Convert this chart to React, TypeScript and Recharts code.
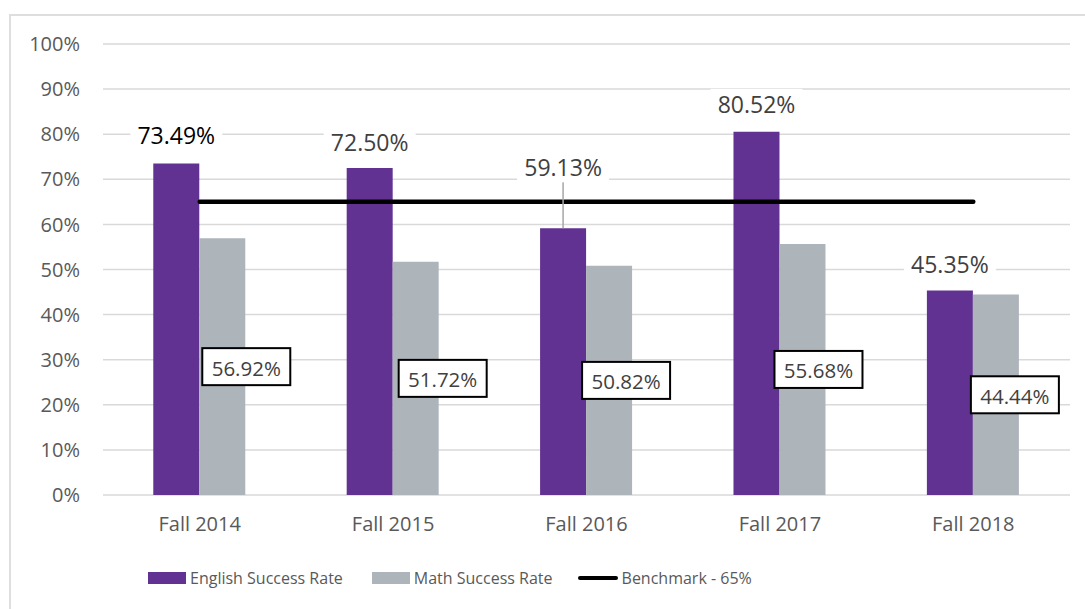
import React from "react";
import {
  Bar,
  CartesianGrid,
  ComposedChart,
  LabelList,
  Line,
  XAxis,
  YAxis,
} from "recharts";

const terms = ["Fall 2014", "Fall 2015", "Fall 2016", "Fall 2017", "Fall 2018"];
const englishRate = [73.49, 72.5, 59.13, 80.52, 45.35];
const mathRate = [56.92, 51.72, 50.82, 55.68, 44.44];
const benchmark = [65, 65, 65, 65, 65];
const yTicks = [0, 10, 20, 30, 40, 50, 60, 70, 80, 90, 100];

// label nudges (px), hand placed like in the original
const englishLift = [29, 26, 61, 28, 26];
const mathShift = [24, 27, 17, 16, 19];

const PURPLE = "#623292";
const GRAY = "#adb4ba";
const TEXT = "#595959";
const FONT = "'Open Sans', sans-serif";

const datos = terms.map((t, i) => ({
  term: t,
  english: englishRate[i],
  math: mathRate[i],
  benchmark: benchmark[i],
}));

const pct = (v: number) => `${v.toFixed(2)}%`;

function EnglishLabel(props: any) {
  const { x, y, width, value, index } = props;
  const cx = Number(x) + Number(width) / 2;
  const lift = englishLift[index];
  const cy = Number(y) - lift;
  const first = index === 0;
  return (
    <g>
      {lift > 40 && (
        <line x1={cx} x2={cx} y1={cy + 14} y2={Number(y)} stroke="#a6a6a6" strokeWidth={1.5} />
      )}
      <rect x={cx - 46} y={cy - 15} width={92} height={30} fill="#fff" />
      <text
        x={cx}
        y={cy}
        textAnchor="middle"
        dominantBaseline="central"
        fontSize={23}
        fontFamily={FONT}
        fill={first ? "#000" : "#404040"}
      >
        {pct(Number(value))}
      </text>
    </g>
  );
}

function MathLabel(props: any) {
  const { x, y, width, height, value, index } = props;
  const cx = Number(x) + Number(width) / 2 + mathShift[index];
  const cy = Number(y) + Number(height) / 2;
  return (
    <g>
      <rect
        x={cx - 44}
        y={cy - 18.5}
        width={88}
        height={37}
        fill="#fff"
        stroke="#000"
        strokeWidth={2}
      />
      <text
        x={cx}
        y={cy + 1}
        textAnchor="middle"
        dominantBaseline="central"
        fontSize={20.5}
        fontFamily={FONT}
        fill="#404040"
      >
        {pct(Number(value))}
      </text>
    </g>
  );
}

function Leyenda() {
  const item = (swatch: React.ReactNode, label: string, gap: number) => (
    <div style={{ display: "flex", alignItems: "center", marginRight: gap }}>
      {swatch}
      <span style={{ marginLeft: 4 }}>{label}</span>
    </div>
  );
  return (
    <div
      style={{
        position: "absolute",
        left: 148,
        top: 567,
        display: "flex",
        alignItems: "center",
        fontFamily: FONT,
        fontSize: 16,
        color: TEXT,
        whiteSpace: "nowrap",
      }}
    >
      {item(<div style={{ width: 38, height: 12, background: PURPLE }} />, "English Success Rate", 29)}
      {item(<div style={{ width: 38, height: 12, background: GRAY }} />, "Math Success Rate", 25)}
      {item(
        <div style={{ width: 40, height: 4.5, background: "#000", borderRadius: 3 }} />,
        "Benchmark - 65%",
        0
      )}
    </div>
  );
}

export default function App() {
  return (
    <div
      style={{
        position: "absolute",
        left: 0,
        top: 0,
        width: 1085,
        height: 609,
        overflow: "hidden",
        background: "#fff",
      }}
    >
      <div
        style={{
          position: "absolute",
          left: 9,
          top: 14,
          width: 1100,
          height: 620,
          border: "2px solid #dedede",
        }}
      />
      <ComposedChart
        width={1085}
        height={609}
        data={datos}
        margin={{ top: 44, right: 15, bottom: 84, left: 1 }}
        barCategoryGap="26%"
        barGap={0}
        style={{ position: "absolute", left: 0, top: 0 }}
      >
        <CartesianGrid vertical={false} stroke="#d9d9d9" strokeWidth={1.5} />
        <XAxis
          dataKey="term"
          height={30}
          axisLine={false}
          tickLine={false}
          tickSize={0}
          tickMargin={22}
          tick={{ fontSize: 20, fill: TEXT, fontFamily: FONT }}
        />
        <YAxis
          width={102}
          domain={[0, 100]}
          ticks={yTicks}
          axisLine={false}
          tickLine={false}
          tickSize={0}
          tickMargin={23}
          tickFormatter={(v) => `${v}%`}
          tick={{ fontSize: 20, fill: TEXT, fontFamily: FONT }}
        />
        <Bar dataKey="english" fill={PURPLE} isAnimationActive={false}>
          <LabelList dataKey="english" content={EnglishLabel} />
        </Bar>
        <Bar dataKey="math" fill={GRAY} isAnimationActive={false}>
          <LabelList dataKey="math" content={MathLabel} />
        </Bar>
        <Line
          dataKey="benchmark"
          stroke="#000"
          strokeWidth={4.5}
          strokeLinecap="round"
          dot={false}
          activeDot={false}
          isAnimationActive={false}
        />
      </ComposedChart>
      <Leyenda />
    </div>
  );
}
